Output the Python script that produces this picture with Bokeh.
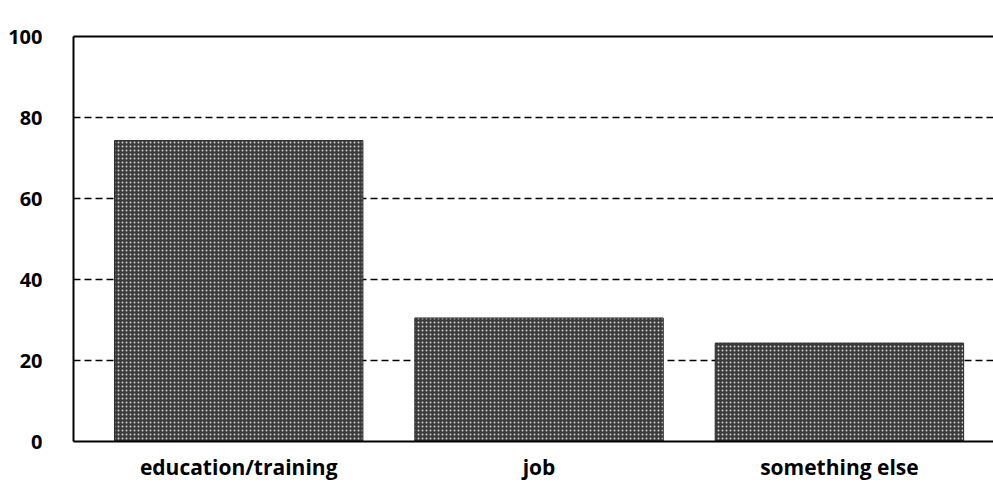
from bokeh.plotting import figure
from bokeh.models import Range1d, FixedTicker, LinearAxis, ColumnDataSource
from bokeh.embed import file_html
from bokeh.resources import INLINE

categories = ["education/training", "job", "something else"]
values = [74.3, 30.5, 24.3]
y_ticks = [0, 20, 40, 60, 80, 100]

xs = list(range(len(categories)))
src = ColumnDataSource(dict(x=xs, top=values))

p = figure(width=993, height=483, output_backend="svg", toolbar_location=None,
           x_range=Range1d(-0.55, len(categories) - 1 + 0.513), y_range=Range1d(0, 100),
           min_border_left=73, min_border_right=0, min_border_top=36, min_border_bottom=40)
p.outline_line_color = None
p.background_fill_color = "white"

p.vbar(x="x", top="top", width=0.827, bottom=0, source=src,
       fill_color="#3a3a3a", line_color="#2a2a2a", line_width=1,
       hatch_pattern="dot", hatch_color="#d0d0d0", hatch_scale=4, hatch_weight=1.2)

p.xgrid.visible = False
p.ygrid.ticker = FixedTicker(ticks=[t for t in y_ticks if 0 < t < 100])
p.ygrid.grid_line_color = "black"
p.ygrid.grid_line_dash = "7 4"
p.ygrid.grid_line_width = 1.3

font = "Open Sans"
p.yaxis.ticker = FixedTicker(ticks=y_ticks)
p.yaxis.axis_line_width = 2
p.yaxis.major_tick_line_color = None
p.yaxis.minor_tick_line_color = None
p.yaxis.major_label_standoff = 25
p.yaxis.major_label_text_font = font
p.yaxis.major_label_text_font_style = "bold"
p.yaxis.major_label_text_font_size = "20px"
p.yaxis.major_label_text_color = "black"

p.xaxis.ticker = FixedTicker(ticks=xs)
p.xaxis.major_label_overrides = {i: c for i, c in zip(xs, categories)}
p.xaxis.axis_line_width = 2
p.xaxis.major_tick_line_color = None
p.xaxis.minor_tick_line_color = None
p.xaxis.major_label_standoff = 5
p.xaxis.major_label_text_font = font
p.xaxis.major_label_text_font_style = "bold"
p.xaxis.major_label_text_font_size = "21px"
p.xaxis.major_label_text_color = "black"

top = LinearAxis(ticker=FixedTicker(ticks=[]), axis_line_width=2,
                 major_tick_line_color=None, minor_tick_line_color=None,
                 major_label_text_font_size="0px")
p.add_layout(top, "above")

open("out.html", "w").write(file_html(p, INLINE))
